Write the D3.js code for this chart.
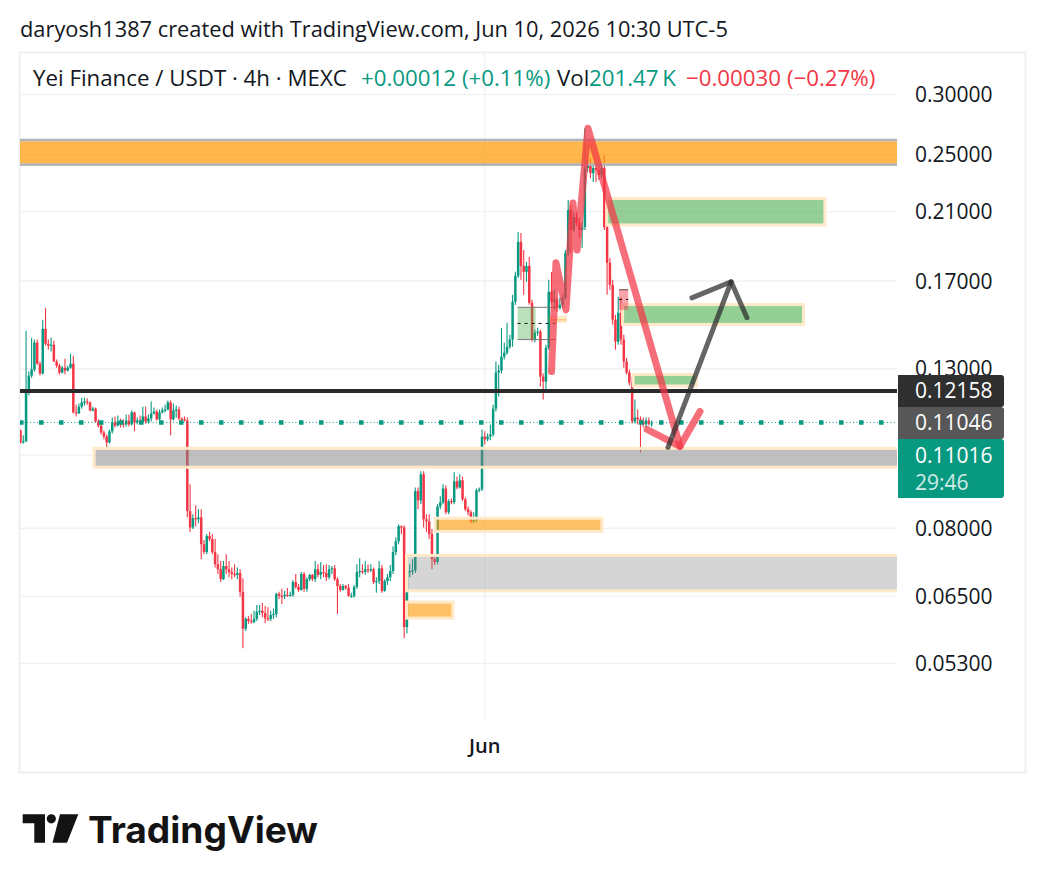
<!DOCTYPE html>
<html>
<head>
<meta charset="utf-8">
<script src="https://cdn.jsdelivr.net/npm/d3@7"></script>
<style>
  body { margin: 0; background: #fff; }
  svg { display: block; font-family: "Open Sans", sans-serif; }
</style>
</head>
<body>
<svg id="chart" width="1044" height="886"></svg>
<script>
// 4h candles, YEI/USDT on MEXC (prices)
const opens = [
  .1078,.1039,.1043,.1214,.1274,.1298,.1409,.1321,.1282,.1469,.1404,.1396,.1400,.1330,.1313,.1286,.1305,.1294,.1305,.1321,
  .1139,.1135,.1159,.1174,.1177,.1174,.1146,.1152,.1108,.1094,.1071,.1058,.1039,.1075,.1105,.1094,.1108,.1101,.1098,.1111,
  .1098,.1139,.1105,.1111,.1108,.1125,.1108,.1118,.1135,.1142,.1115,.1139,.1146,.1149,.1174,.1115,.1146,.1149,.1118,.1115,
  .1111,.0843,.0802,.0825,.0822,.0827,.0762,.0744,.0781,.0774,.0744,.0717,.0706,.0685,.0713,.0706,.0700,.0696,.0694,.0698,
  .0659,.0589,.0607,.0603,.0601,.0607,.0620,.0622,.0618,.0608,.0607,.0614,.0616,.0655,.0651,.0650,.0653,.0652,.0653,.0679,
  .0669,.0663,.0696,.0665,.0685,.0694,.0685,.0706,.0694,.0700,.0698,.0689,.0706,.0708,.0685,.0671,.0663,.0671,.0667,.0651,
  .0651,.0669,.0700,.0702,.0700,.0706,.0704,.0706,.0679,.0681,.0708,.0661,.0681,.0689,.0702,.0744,.0769,.0805,.0802,.0592,
  .0700,.0702,.0704,.0896,.0871,.0943,.0822,.0817,.0786,.0728,.0722,.0855,.0866,.0903,.0840,.0869,.0866,.0923,.0906,.0926,
  .0874,.0848,.0840,.0817,.0820,.0898,.0901,.1058,.1049,.1058,.1065,.1152,.1286,.1294,.1350,.1366,.1391,.1422,.1596,.1727,
  .1915,.1780,.1748,.1780,.1591,.1422,.1452,.1457,.1270,.1251,.1387,.1645,.1596,.1606,.1566,.1581,.1615,.1852,.2111,.1986,
  .2066,.2029,.1986,.2004,.2399,.2435,.2362,.2399,.2384,.2348,.2399,.2004,.1797,.1680,.1511,.1413,.1543,.1422,.1330,.1286,
  .1247,.1108,.1121,.1115,.1108,.1098,.1111,.11004
];
const highs = [
  .1081,.1062,.1461,.1290,.1430,.1422,.1422,.1330,.1511,.1566,.1422,.1430,.1417,.1338,.1321,.1313,.1341,.1313,.1362,.1354,
  .1166,.1170,.1191,.1191,.1188,.1177,.1159,.1156,.1115,.1101,.1078,.1065,.1081,.1121,.1125,.1128,.1118,.1115,.1132,.1132,
  .1146,.1142,.1121,.1128,.1159,.1159,.1132,.1177,.1156,.1149,.1149,.1156,.1166,.1181,.1181,.1170,.1163,.1159,.1121,.1125,
  .1121,.0915,.0835,.0858,.0848,.0848,.0772,.0786,.0791,.0786,.0774,.0739,.0724,.0724,.0739,.0724,.0710,.0717,.0710,.0706,
  .0687,.0610,.0612,.0616,.0622,.0633,.0633,.0637,.0631,.0629,.0622,.0626,.0657,.0659,.0665,.0661,.0667,.0659,.0683,.0696,
  .0675,.0700,.0700,.0689,.0696,.0696,.0724,.0717,.0722,.0715,.0717,.0715,.0713,.0715,.0689,.0675,.0675,.0673,.0675,.0657,
  .0673,.0717,.0730,.0717,.0724,.0717,.0717,.0710,.0689,.0724,.0715,.0685,.0696,.0715,.0757,.0778,.0810,.0807,.0807,.0728,
  .0717,.0728,.0906,.0906,.0952,.0952,.0835,.0835,.0798,.0737,.0861,.0882,.0915,.0912,.0874,.0876,.0949,.0937,.0943,.0937,
  .0879,.0855,.0845,.0840,.0903,.0906,.1081,.1075,.1068,.1098,.1166,.1330,.1317,.1474,.1409,.1497,.1443,.1630,.1748,.1974,
  .1968,.1869,.1802,.1829,.1606,.1466,.1474,.1466,.1282,.1400,.1706,.1748,.1655,.1615,.1615,.1630,.1869,.2176,.2143,.2098,
  .2098,.2059,.2035,.2709,.2458,.2473,.2435,.2435,.2420,.2428,.2495,.2035,.1824,.1706,.1534,.1620,.1615,.1443,.1345,.1298,
  .1270,.1185,.1149,.1125,.1121,.1121,.1121,.1112
];
const lows = [
  .1036,.1036,.1040,.1199,.1266,.1290,.1317,.1274,.1278,.1396,.1379,.1371,.1328,.1305,.1278,.1282,.1278,.1290,.1301,.1135,
  .1125,.1135,.1152,.1163,.1166,.1142,.1142,.1105,.1088,.1065,.1049,.1023,.1036,.1068,.1088,.1091,.1088,.1088,.1091,.1091,
  .1094,.1075,.1098,.1101,.1101,.1101,.1101,.1108,.1132,.1111,.1111,.1135,.1139,.1146,.1062,.1111,.1121,.1111,.1105,.1108,
  .0827,.0791,.0798,.0805,.0812,.0728,.0739,.0739,.0769,.0739,.0710,.0696,.0679,.0683,.0696,.0689,.0685,.0689,.0685,.0649,
  .0555,.0585,.0598,.0598,.0599,.0603,.0614,.0610,.0599,.0603,.0603,.0607,.0610,.0645,.0635,.0645,.0649,.0649,.0649,.0665,
  .0659,.0661,.0659,.0659,.0681,.0681,.0679,.0689,.0685,.0689,.0681,.0685,.0696,.0681,.0616,.0659,.0661,.0663,.0649,.0647,
  .0647,.0665,.0689,.0696,.0694,.0698,.0700,.0675,.0657,.0675,.0657,.0659,.0673,.0681,.0696,.0737,.0762,.0786,.0572,.0581,
  .0689,.0694,.0698,.0848,.0861,.0802,.0791,.0774,.0706,.0715,.0717,.0848,.0861,.0835,.0835,.0861,.0861,.0901,.0903,.0869,
  .0843,.0832,.0812,.0812,.0815,.0893,.0896,.1033,.1043,.1046,.1058,.1142,.1195,.1282,.1338,.1358,.1383,.1391,.1581,.1716,
  .1706,.1630,.1696,.1581,.1413,.1409,.1439,.1232,.1185,.1210,.1379,.1581,.1557,.1548,.1557,.1566,.1606,.1835,.1852,.1974,
  .2010,.1938,.1880,.1986,.2370,.2326,.2299,.2299,.2313,.2326,.1986,.1630,.1655,.1488,.1379,.1400,.1400,.1305,.1278,.1236,
  .1101,.1101,.1098,.1008,.1088,.1088,.1094,.1090
];
const closes = [
  .1039,.1043,.1214,.1274,.1298,.1409,.1321,.1282,.1469,.1404,.1396,.1400,.1330,.1313,.1286,.1305,.1294,.1305,.1321,.1139,
  .1135,.1159,.1174,.1177,.1174,.1146,.1152,.1108,.1094,.1071,.1058,.1039,.1075,.1105,.1094,.1108,.1101,.1098,.1111,.1098,
  .1139,.1105,.1111,.1108,.1125,.1108,.1118,.1135,.1142,.1115,.1139,.1146,.1149,.1174,.1115,.1146,.1149,.1118,.1115,.1111,
  .0843,.0802,.0825,.0822,.0827,.0762,.0744,.0781,.0774,.0744,.0717,.0706,.0685,.0713,.0706,.0700,.0696,.0694,.0698,.0659,
  .0589,.0607,.0603,.0601,.0607,.0620,.0622,.0618,.0608,.0607,.0614,.0616,.0655,.0651,.0650,.0653,.0652,.0653,.0679,.0669,
  .0663,.0696,.0665,.0685,.0694,.0685,.0706,.0694,.0700,.0698,.0689,.0706,.0708,.0685,.0671,.0663,.0671,.0667,.0651,.0651,
  .0669,.0700,.0702,.0700,.0706,.0704,.0706,.0679,.0681,.0708,.0661,.0681,.0689,.0702,.0744,.0769,.0805,.0802,.0592,.0700,
  .0702,.0704,.0896,.0871,.0943,.0822,.0817,.0786,.0728,.0722,.0855,.0866,.0903,.0840,.0869,.0866,.0923,.0906,.0926,.0874,
  .0848,.0840,.0817,.0820,.0898,.0901,.1058,.1049,.1058,.1065,.1152,.1286,.1294,.1350,.1366,.1391,.1422,.1596,.1727,.1915,
  .1780,.1748,.1780,.1591,.1422,.1452,.1457,.1270,.1251,.1387,.1645,.1596,.1606,.1566,.1581,.1615,.1852,.2111,.1986,.2066,
  .2029,.1986,.2004,.2399,.2435,.2362,.2399,.2384,.2348,.2399,.2004,.1797,.1680,.1511,.1413,.1543,.1422,.1330,.1286,.1247,
  .1108,.1121,.1115,.1108,.1098,.1111,.1100,.11016
];

const priceTicks = [0.30, 0.25, 0.21, 0.17, 0.13, 0.10, 0.08, 0.065, 0.053];
const timeTicks = [{ bar: 167, label: "Jun" }];

const levelPrice = 0.12158;      // black horizontal line
const markerPrice = 0.11046;     // dotted teal line
const lastPrice = 0.11016;
const countdown = "29:46";

// rectangles drawn on the chart: bar index range (null = pane edge) and price range
const zones = [
  { kind: "resistance", from: null,  to: null,  top: 0.2601, bottom: 0.2435 },
  { kind: "support",    from: 27,    to: null,  top: 0.1016, bottom: 0.0968 },
  { kind: "wide",       from: 139.4, to: null,  top: 0.0733, bottom: 0.0664 },
  { kind: "demand",     from: 149.7, to: 208.6, top: 0.0821, bottom: 0.0796 },
  { kind: "demand",     from: 139.4, to: 155.0, top: 0.0636, bottom: 0.0611 },
  { kind: "target",     from: 211.4, to: 288.8, top: 0.2176, bottom: 0.2026 },
  { kind: "target",     from: 217.1, to: 281.1, top: 0.1575, bottom: 0.1496 },
  { kind: "target",     from: 220.9, to: 242.6, top: 0.1273, bottom: 0.1240 }
];

// red projection path and its arrow head, grey bounce arrow
const redPath = [
  { bar: 191.0, price: 0.1290 }, { bar: 192.6, price: 0.1797 }, { bar: 196.2, price: 0.1557 },
  { bar: 198.7, price: 0.2157 }, { bar: 200.2, price: 0.1869 }, { bar: 204.1, price: 0.2709 },
  { bar: 237.2, price: 0.1027 }
];
const redHead = [{ bar: 225.4, price: 0.1081 }, { bar: 237.2, price: 0.1027 }, { bar: 244.4, price: 0.1142 }];
const greyPath = [{ bar: 232.9, price: 0.1024 }, { bar: 255.6, price: 0.1696 }];
const greyHead = [{ bar: 241.5, price: 0.1615 }, { bar: 255.6, price: 0.1696 }, { bar: 261.3, price: 0.1520 }];

// small measuring boxes
const rangeBox = { from: 178.8, to: 185.3, top: 0.1569, bottom: 0.1422, lineTo: 192.7 };
const miniBox = { from: 190.0, to: 196.5, top: 0.1530, bottom: 0.1496, mid: 0.1510 };
const redBox = { from: 215.3, to: 218.6, top: 0.1655, bottom: 0.1557, mid: 0.1607 };

const UP = "#089981", DOWN = "#f23645", TEXT = "#131722";

const svg = d3.select("#chart");
const pane = { left: 20, right: 897, top: 53, bottom: 720 };

const x = d3.scaleLinear().domain([0, closes.length - 1]).range([20.5, 651.6]);
const y = d3.scaleLog().domain([0.30, 0.053]).range([94.7, 663.3]);

function fitWidth(sel, w) {
    const len = sel.node().getComputedTextLength();
    const fs = parseFloat(sel.attr("font-size"));
    sel.attr("font-size", (fs * w / len).toFixed(2));
    return fs * w / len;
}

svg.append("defs").append("clipPath").attr("id", "paneClip")
    .append("rect")
    .attr("x", pane.left).attr("y", pane.top)
    .attr("width", pane.right - pane.left).attr("height", pane.bottom - pane.top);

// frame
svg.append("rect")
    .attr("x", 19.5).attr("y", 52.5).attr("width", 1006).attr("height", 720)
    .attr("fill", "none").attr("stroke", "#eeeff2").attr("stroke-width", 2);

// grid
const grid = svg.append("g");
grid.selectAll(".hgrid").data(priceTicks).enter().append("line")
    .attr("x1", pane.left).attr("x2", pane.right)
    .attr("y1", d => y(d)).attr("y2", d => y(d))
    .attr("stroke", "#f0f1f3").attr("stroke-width", 1.3);
grid.selectAll(".vgrid").data(timeTicks).enter().append("line")
    .attr("x1", d => x(d.bar)).attr("x2", d => x(d.bar))
    .attr("y1", pane.top).attr("y2", pane.bottom)
    .attr("stroke", "#f0f1f3").attr("stroke-width", 1.3);

const plot = svg.append("g").attr("clip-path", "url(#paneClip)");

// candles
const candles = plot.append("g");
closes.forEach((c, i) => {
    const o = opens[i];
    const col = c >= o ? UP : DOWN;
    const hi = Math.max(highs[i], o, c), lo = Math.min(lows[i], o, c);
    candles.append("line")
        .attr("x1", x(i)).attr("x2", x(i))
        .attr("y1", y(hi)).attr("y2", y(lo))
        .attr("stroke", col).attr("stroke-width", 1.1);
    const top = y(Math.max(o, c));
    candles.append("rect")
        .attr("x", x(i) - 1.25).attr("width", 2.5)
        .attr("y", top)
        .attr("height", Math.max(1.2, Math.abs(y(o) - y(c))))
        .attr("fill", col);
});

// zones: fill inside the price range, a 3px border band just outside it
const zoneStyle = {
    resistance: { fill: "rgba(255,152,0,0.7)", stroke: "#b4b4b4", sw: 2.8 },
    support:    { fill: "rgba(128,128,128,0.5)", stroke: "#ffe9c9", sw: 3 },
    wide:       { fill: "rgba(128,128,128,0.33)", stroke: "#ffe9c9", sw: 3 },
    demand:     { fill: "rgba(255,152,0,0.6)", stroke: "#ffe9c9", sw: 3 },
    target:     { fill: "rgba(76,175,80,0.6)", stroke: "#ffe9c9", sw: 3 }
};
const zx = (v, edge) => v == null ? edge : x(v);
const zoneG = plot.append("g");
zones.forEach(d => {
    const st = zoneStyle[d.kind];
    const x0 = zx(d.from, pane.left - 6), x1 = zx(d.to, pane.right + 6);
    const y0 = y(d.top), y1 = y(d.bottom);
    const h = st.sw / 2;
    zoneG.append("rect")
        .attr("x", x0 - h).attr("y", y0 - h)
        .attr("width", x1 - x0 + 2 * h).attr("height", y1 - y0 + 2 * h)
        .attr("fill", "none").attr("stroke", st.stroke).attr("stroke-width", st.sw);
    zoneG.append("rect")
        .attr("x", x0).attr("y", y0)
        .attr("width", x1 - x0).attr("height", y1 - y0)
        .attr("fill", st.fill);
});

// small tools
const tools = plot.append("g");
tools.append("rect")
    .attr("x", x(rangeBox.from)).attr("width", x(rangeBox.to) - x(rangeBox.from))
    .attr("y", y(rangeBox.top)).attr("height", y(rangeBox.bottom) - y(rangeBox.top))
    .attr("fill", "rgba(76,175,80,0.38)");
[rangeBox.top, rangeBox.bottom].forEach(p => {
    tools.append("line")
        .attr("x1", x(rangeBox.from)).attr("x2", x(rangeBox.lineTo))
        .attr("y1", y(p)).attr("y2", y(p))
        .attr("stroke", "#777").attr("stroke-width", 1);
});
const rangeMid = Math.sqrt(rangeBox.top * rangeBox.bottom);
tools.append("line")
    .attr("x1", x(rangeBox.from)).attr("x2", x(rangeBox.lineTo))
    .attr("y1", y(rangeMid)).attr("y2", y(rangeMid))
    .attr("stroke", "#111").attr("stroke-width", 1).attr("stroke-dasharray", "3,4");
tools.append("rect")
    .attr("x", x(miniBox.from)).attr("width", x(miniBox.to) - x(miniBox.from))
    .attr("y", y(miniBox.top)).attr("height", y(miniBox.bottom) - y(miniBox.top))
    .attr("fill", "rgba(255,152,0,0.2)");
tools.append("line")
    .attr("x1", x(miniBox.from)).attr("x2", x(miniBox.to))
    .attr("y1", y(miniBox.mid)).attr("y2", y(miniBox.mid))
    .attr("stroke", "rgba(255,152,0,0.6)").attr("stroke-width", 1);
tools.append("rect")
    .attr("x", x(redBox.from)).attr("width", x(redBox.to) - x(redBox.from))
    .attr("y", y(redBox.top)).attr("height", y(redBox.bottom) - y(redBox.top))
    .attr("fill", "rgba(242,54,69,0.45)");
tools.append("line")
    .attr("x1", x(redBox.from)).attr("x2", x(redBox.to))
    .attr("y1", y(redBox.top)).attr("y2", y(redBox.top))
    .attr("stroke", "#6b3b3b").attr("stroke-width", 1);
tools.append("line")
    .attr("x1", x(redBox.from)).attr("x2", x(redBox.to))
    .attr("y1", y(redBox.mid)).attr("y2", y(redBox.mid))
    .attr("stroke", "#111").attr("stroke-width", 1).attr("stroke-dasharray", "3,4");

// horizontal level + dotted marker line
plot.append("line")
    .attr("x1", pane.left).attr("x2", pane.right)
    .attr("y1", y(levelPrice)).attr("y2", y(levelPrice))
    .attr("stroke", "#2a2a2a").attr("stroke-width", 4);
plot.append("line")
    .attr("x1", pane.left).attr("x2", pane.right)
    .attr("y1", y(markerPrice)).attr("y2", y(markerPrice))
    .attr("stroke", UP).attr("stroke-width", 1).attr("stroke-dasharray", "1,2.4");
plot.append("line")
    .attr("x1", pane.left - 1).attr("x2", pane.right)
    .attr("y1", y(markerPrice)).attr("y2", y(markerPrice))
    .attr("stroke", UP).attr("stroke-width", 4.5).attr("stroke-dasharray", "4.5,15.5");

// drawn arrows
const line = d3.line().x(d => x(d.bar)).y(d => y(d.price));
[[redPath, "#f23645", 0.72, 7], [redHead, "#f23645", 0.72, 7],
 [greyPath, "#2a2a2a", 0.72, 5], [greyHead, "#2a2a2a", 0.72, 5]].forEach(([pts, col, op, w]) => {
    plot.append("path").attr("d", line(pts))
        .attr("fill", "none").attr("stroke", col).attr("stroke-opacity", op)
        .attr("stroke-width", w).attr("stroke-linejoin", "round").attr("stroke-linecap", "round");
});

// price axis
const axisFs = 21;
const ax = svg.append("g").attr("font-size", axisFs).attr("fill", TEXT);
ax.selectAll("text").data(priceTicks).enter().append("text")
    .attr("x", 915).attr("y", d => y(d) + 7.5)
    .text(d => d3.format(".5f")(d));

function tag(yTop, h, fill) {
    const r = 3, x0 = 898, x1 = 1004;
    svg.append("path")
        .attr("d", `M${x0},${yTop}H${x1 - r}Q${x1},${yTop} ${x1},${yTop + r}V${yTop + h - r}Q${x1},${yTop + h} ${x1 - r},${yTop + h}H${x0}Z`)
        .attr("fill", fill);
}
const t1 = y(levelPrice) - 16;
tag(t1, 32, "#2f2f2f");
const t2 = Math.max(y(markerPrice) - 16, t1 + 32);
tag(t2, 32, "#575757");
const t3 = Math.max(y(lastPrice) - 16, t2 + 32);
tag(t3, 59, UP);
const tagText = svg.append("g").attr("font-size", axisFs).attr("fill", "#fff");
tagText.append("text").attr("x", 915).attr("y", t1 + 23.5).text(d3.format(".5f")(levelPrice));
tagText.append("text").attr("x", 915).attr("y", t2 + 23.5).text(d3.format(".5f")(markerPrice));
tagText.append("text").attr("x", 915).attr("y", t3 + 24).text(d3.format(".5f")(lastPrice));
tagText.append("text").attr("x", 915).attr("y", t3 + 51).attr("fill-opacity", 0.82).text(countdown);

// time axis
svg.selectAll(".tlab").data(timeTicks).enter().append("text")
    .attr("x", d => x(d.bar)).attr("y", 753)
    .attr("text-anchor", "middle").attr("font-size", 20).attr("font-weight", 600)
    .attr("fill", TEXT).text(d => d.label);

// header
const title = svg.append("text").attr("x", 20).attr("y", 37).attr("font-size", 19.5).attr("fill", TEXT)
    .text("daryosh1387 created with TradingView.com, Jun 10, 2026 10:30 UTC-5");
fitWidth(title, 708);

const leg0 = svg.append("text").attr("x", 33).attr("y", 86).attr("font-size", 17).attr("fill", TEXT)
    .text("Yei Finance / USDT · 4h · MEXC");
const legFs = fitWidth(leg0, 314);
const legendParts = [
    { x: 361, text: "+0.00012 (+0.11%)", fill: UP },
    { x: 557, text: "Vol", fill: TEXT },
    { x: 589, text: "201.47\u2009K", fill: UP },
    { x: 686, text: "\u22120.00030 (\u22120.27%)", fill: DOWN }
];
svg.selectAll(".leg").data(legendParts).enter().append("text")
    .attr("x", d => d.x).attr("y", 86).attr("font-size", legFs.toFixed(2))
    .attr("fill", d => d.fill).text(d => d.text);

// TradingView logo
const logo = svg.append("g").attr("fill", "#131313");
logo.append("path").attr("d", "M22.7,814.3H45V842.7H34.3V823.3H22.7Z");
logo.append("circle").attr("cx", 51.3).attr("cy", 818.8).attr("r", 4.6);
logo.append("path").attr("d", "M60,814.3H78.3L67,842.7H52.5Z");
const brand = svg.append("text").attr("x", 88).attr("y", 843).attr("font-family", "Inter, sans-serif")
    .attr("font-weight", 700).attr("font-size", 38).attr("fill", "#131313").text("TradingView");
fitWidth(brand, 230);
</script>
</body>
</html>
